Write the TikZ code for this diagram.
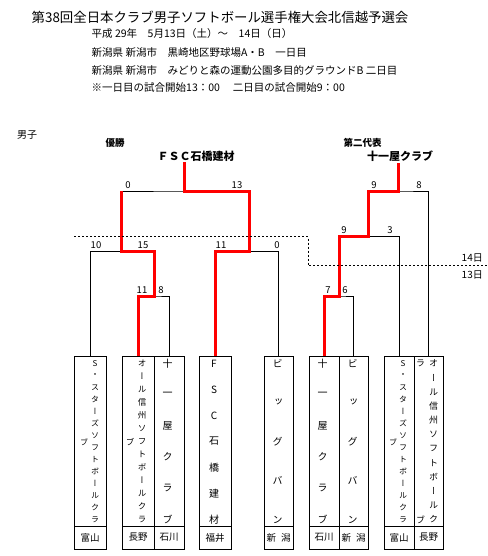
\documentclass[tikz,border=0pt]{standalone}
\usepackage{fontspec}
\setmainfont{Noto Sans CJK JP}
\newfontfamily\vjp[RawFeature=+vert]{Noto Sans CJK JP}
\usetikzlibrary{calc}
\tikzset{
  hd/.style={anchor=west,inner sep=0pt,font=\fontsize{10.5}{12}\selectfont},
  cell/.style={draw,line width=1pt,minimum width=#1pt,inner sep=0pt},
  brk/.style={line width=1pt},
  win/.style={red,line width=3pt},
  daysep/.style={line width=1pt,dash pattern=on 2pt off 2pt},
  scr/.style={inner sep=0pt,font=\fontsize{9.5}{10}\selectfont},
  lead/.style={inner sep=0pt,font=\bfseries\fontsize{9.5}{10}\selectfont},
  champ/.style={inner sep=1pt,font=\bfseries\fontsize{11}{12}\selectfont},
  vch/.style={inner sep=0pt},
}
\newcommand{\vcol}[6]{\foreach \c [count=\i] in {#6}{\node[vch,font=\vjp\fontsize{#3}{#3}\selectfont] (#1#2\i) at ($(#1.north)+(#4,{8+(\i-1)*156/(#5-1)})$) {\c};}}

\begin{document}
\begin{tikzpicture}[x=1pt,y=-1pt]
 \useasboundingbox (0,0) rectangle (487,556);
 \node[hd,font=\fontsize{13.4}{15}\selectfont] (title) at (31.5,17) {第38回全日本クラブ男子ソフトボール選手権大会北信越予選会};
 \node[hd] (date) at (91.5,34) {平成 29年　5月13日（土）～　14日（日）};
 \node[hd] (site1) at (91.5,52.5) {新潟県 新潟市　黒崎地区野球場A・B　一日目};
 \node[hd] (site2) at (91.5,71) {新潟県 新潟市　みどりと森の運動公園多目的グラウンドB 二日目};
 \node[hd] (note) at (91.5,87.5) {※一日目の試合開始13：00　 二日目の試合開始9：00};
 \node[hd,font=\fontsize{10}{12}\selectfont] (div) at (17,135) {男子};
 \foreach \n/\x/\w/\pf in {1/90/32/富山,2/138/32/長野,3/169/30/石川,4/215/32/福井,5/278.5/29/新\hspace{5pt}潟,6/324/30/石川,7/353.5/29/新\hspace{5pt}潟,8/399/30/富山,9/428.5/29/長野}{
  \node[cell=\w,minimum height=170pt] (b\n) at (\x,441) {};
  \node[cell=\w,minimum height=23pt,font=\fontsize{9.5}{10}\selectfont] (p\n) at (\x,537.5) {\pf};
 }
 \vcol{b1}{r}{8}{5}{14}{S,・,ス,タ,ー,ズ,ソ,フ,ト,ボ,ー,ル,ク,ラ}
 \node[vch,font=\vjp\fontsize{8}{8}\selectfont] (b1l) at ($(b1)+(-6,1.5)$) {ブ};
 \vcol{b2}{r}{8.5}{4}{13}{オ,ー,ル,信,州,ソ,フ,ト,ボ,ー,ル,ク,ラ}
 \node[vch,font=\vjp\fontsize{8.5}{8.5}\selectfont] (b2l) at ($(b2)+(-8,1.5)$) {ブ};
 \vcol{b3}{c}{10}{-1.5}{6}{十,一,屋,ク,ラ,ブ}
 \vcol{b4}{c}{10}{-1}{7}{F,S,C,石,橋,建,材}
 \vcol{b5}{c}{10}{-1}{5}{ビ,ッ,グ,バ,ン}
 \vcol{b6}{c}{10}{-1.5}{6}{十,一,屋,ク,ラ,ブ}
 \vcol{b7}{c}{10}{-1}{5}{ビ,ッ,グ,バ,ン}
 \vcol{b8}{r}{8}{4}{14}{S,・,ス,タ,ー,ズ,ソ,フ,ト,ボ,ー,ル,ク,ラ}
 \node[vch,font=\vjp\fontsize{8}{8}\selectfont] (b8l) at ($(b8)+(-6,1.5)$) {ブ};
 \vcol{b9}{r}{9}{5}{12}{オ,ー,ル,信,州,ソ,フ,ト,ボ,ー,ル,ク}
 \vcol{b9}{l}{9}{-8}{2}{ラ,ブ}
 \node[lead] (winL) at (115,143) {優勝};
 \node[champ] (champL) at (196,156) {ＦＳＣ石橋建材};
 \node[lead] (winR) at (362.5,143) {第二代表};
 \node[champ] (champR) at (400,156) {十一屋クラブ};
 \coordinate (m1) at (154,296); \coordinate (sL) at (121.5,251.5); \coordinate (sR) at (249,251.5); \coordinate (fL) at (184.5,191);
 \coordinate (r1) at (339,296); \coordinate (r2) at (368,236.5); \coordinate (fR) at (398.5,191);
 \draw[brk] (b2.north) |- (m1) -| (b3.north);
 \draw[brk] (b1.north) |- (sL) -| (m1);
 \draw[brk] (b4.north) |- (sR) -| (b5.north);
 \draw[brk] (sL) |- (fL) -| (sR);
 \draw[brk] (b6.north) |- (r1) -| (b7.north);
 \draw[brk] (r1) |- (r2) -| (b8.north);
 \draw[brk] (r2) |- (fR) -| (b9.north);
 \draw[win] (b2.north) |- (m1) |- (sL) -- (sL |- fL);
 \draw[win] (b4.north) |- (sR) |- (fL) -- (fL |- champL.south);
 \draw[win] (b6.north) |- (r1) |- (r2) |- (fR) -- (fR |- champR.south);
 \foreach \nm/\x/\y/\t in {sa/142/290.5/11,sb/161/290.5/8,sc/96/245.5/10,sd/143/245.5/15,se/221/245.5/11,sf/277/245.5/0,sg/128/185.5/0,sh/237/185.5/13,si/328/290.5/7,sj/345/290.5/6,sk/344/230.5/9,sl/390/230.5/3,sm/374/185.5/9,sn/419/185.5/8}
  \node[scr] (\nm) at (\x,\y) {\t};
 \coordinate (dA) at (74,236.5); \coordinate (dB) at (308,265.5); \coordinate (dC) at (487,265.5);
 \draw[daysep] (dA) -| (dB) -- (dC);
 \node[hd,anchor=east,font=\fontsize{10}{12}\selectfont] (d14) at (483,257.5) {14日};
 \node[hd,anchor=east,font=\fontsize{10}{12}\selectfont] (d13) at (483,275) {13日};
\end{tikzpicture}
\end{document}
